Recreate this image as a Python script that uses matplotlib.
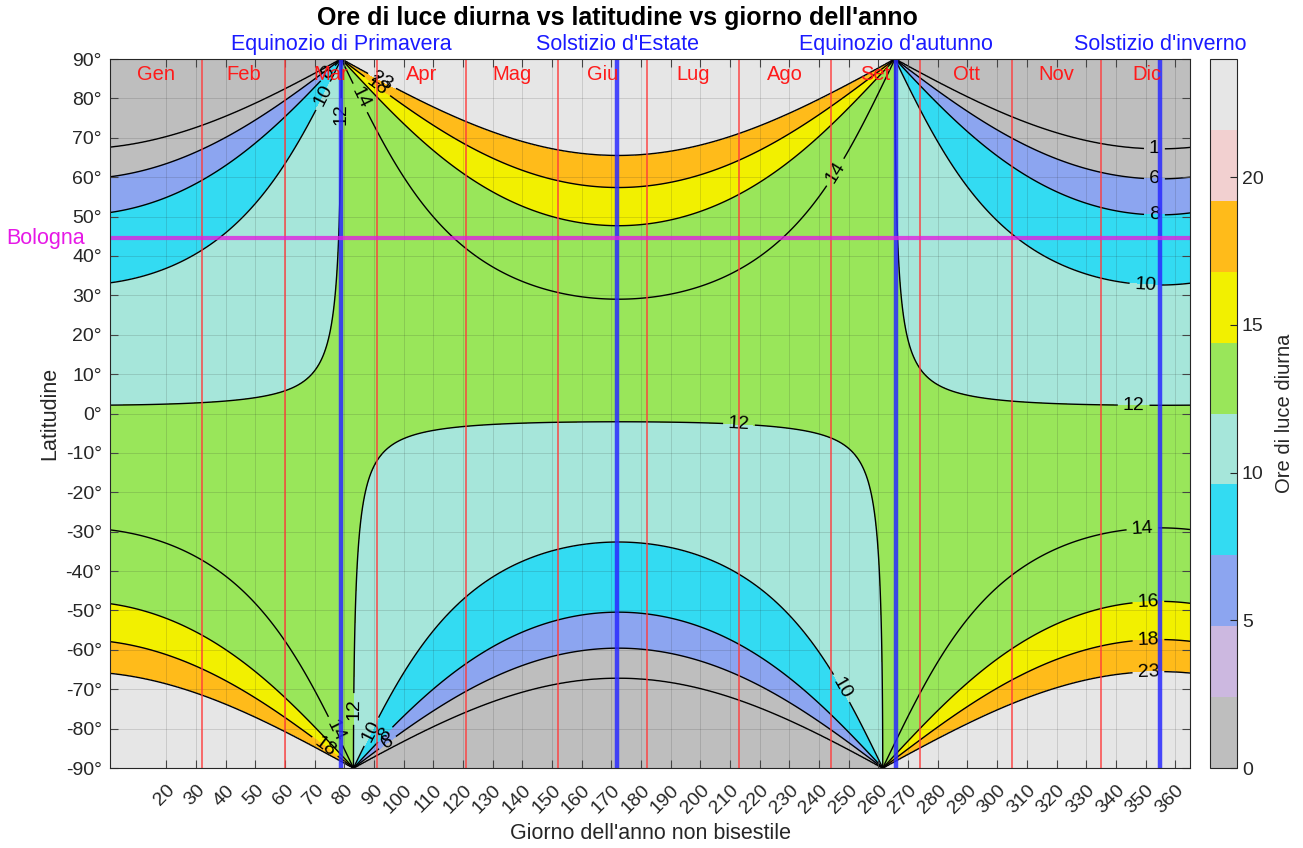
import numpy as np
import matplotlib
matplotlib.use("Agg")
import matplotlib.pyplot as plt
from matplotlib.colors import ListedColormap, Normalize
import matplotlib.cm as cm

plt.rcParams["font.family"] = ["Liberation Sans", "DejaVu Sans"]

# contour levels (hours of daylight) and their fill colours
levels = [1, 6, 8, 10, 12, 14, 16, 18, 23]
cbar_colors = ["#bebebe", "#ccb8e0", "#8ca5f0", "#33dbf2", "#a6e6da",
               "#99e65a", "#f2f000", "#ffbb1a", "#f2d0d0", "#e6e6e6"]

# months (Italian) and first day of each month, non-leap year
months = ["Gen", "Feb", "Mar", "Apr", "Mag", "Giu",
          "Lug", "Ago", "Set", "Ott", "Nov", "Dic"]
month_start = [1, 32, 60, 91, 121, 152, 182, 213, 244, 274, 305, 335]
month_end = month_start[1:] + [366]

# equinoxes / solstices
events = ["Equinozio di Primavera", "Solstizio d'Estate",
          "Equinozio d'autunno", "Solstizio d'inverno"]
event_day = [79, 172, 266, 355]

bologna_lat = 44.5

# day length from the sunrise equation (sun centre at -0.833 deg)
days = np.linspace(1, 365, 1200)
lats = np.linspace(-90, 90, 901)
D, L = np.meshgrid(days, lats)
decl = np.radians(23.45) * np.sin(2 * np.pi * (284 + D) / 365)
phi = np.radians(L)
cosH = (np.sin(np.radians(-0.833)) - np.sin(phi) * np.sin(decl)) / (np.cos(phi) * np.cos(decl))
cosH = np.clip(cosH, -1, 1)
hours = 2 * np.degrees(np.arccos(cosH)) / 15.0

cmap = ListedColormap(cbar_colors)
norm = Normalize(0, 24)
fill_levels = [-0.5] + levels + [24.5]
fill_colors = [cmap(norm(v)) for v in [0] + levels]
fill_colors[0] = cbar_colors[0]

fig = plt.figure(figsize=(13.03, 8.48), dpi=100)
ax = fig.add_axes([0.0844, 0.0943, 0.8289, 0.8361])
cax = fig.add_axes([0.9286, 0.0943, 0.0207, 0.8361])

ax.contourf(D, L, hours, levels=fill_levels, colors=fill_colors, zorder=1)
cs = ax.contour(D, L, hours, levels=levels, colors="k", linewidths=1.0, zorder=2)

label_pos = [(353, 67.5), (353, 59.5), (353, 50), (350, 33), (346, 1.8),
             (213, -2.5), (349, -29.5), (351, -48.5), (351, -57.5), (351, -66),
             (246, 61), (247, -70),
             (79.5, 76), (72, 81), (75, 86), (85, 80), (91, 83), (93, 85),
             (82, -75), (87, -80), (76, -81), (74, -84), (93, -81), (94, -83)]
ax.clabel(cs, levels=levels, manual=label_pos, inline=True, fontsize=14, fmt="%d")

# month boundaries and labels
for s, e, m in zip(month_start, month_end, months):
    ax.axvline(s, color="#ff3b3b", lw=1.2, alpha=0.85, zorder=4)
    ax.text((s + e) / 2, 86, m, color="#ff1a1a", fontsize=14.5,
            ha="center", va="center", zorder=6)

# equinoxes and solstices
for d, name in zip(event_day, events):
    ax.axvline(d, color="#2a2aff", lw=3.2, alpha=0.85, zorder=5)
    ax.text(d, 91.0, name, color="#1a1aff", fontsize=15.5,
            ha="center", va="bottom", clip_on=False)

ax.axhline(bologna_lat, color="#e020e0", lw=3, alpha=0.8, zorder=5)
ax.text(-7.5, bologna_lat, "Bologna", color="#e619e6", fontsize=15.5,
        ha="right", va="center", clip_on=False)

ax.set_xlim(1, 365)
ax.set_ylim(-90, 90)
xt = list(range(20, 361, 10))
ax.set_xticks(xt)
ax.set_xticklabels([str(t) for t in xt], rotation=45, ha="right",
                   rotation_mode="anchor", fontsize=14, color="#262626")
yt = list(range(-90, 91, 10))
ax.set_yticks(yt)
ax.set_yticklabels(["%d°" % t for t in yt], fontsize=14, color="#262626")
ax.tick_params(direction="in", top=True, right=True, length=6, width=0.8,
               color="#444444")
ax.tick_params(axis="x", pad=10)
ax.tick_params(axis="y", pad=6)
ax.set_axisbelow(False)
ax.grid(True, color="#262626", alpha=0.15, lw=0.7)
for sp in ax.spines.values():
    sp.set_color("#262626")
    sp.set_linewidth(0.8)
    sp.set_zorder(7)

ax.set_xlabel("Giorno dell'anno non bisestile", fontsize=15.5, color="#262626", labelpad=4)
ax.set_ylabel("Latitudine", fontsize=15.5, color="#262626", labelpad=4)
fig.text(617 / 1303, 1 - 18 / 848, "Ore di luce diurna vs latitudine vs giorno dell'anno",
         fontsize=18, fontweight="bold", ha="center", va="center")

sm = cm.ScalarMappable(norm=norm, cmap=cmap)
cb = fig.colorbar(sm, cax=cax, ticks=[0, 5, 10, 15, 20])
cb.ax.tick_params(labelsize=14, direction="in", length=5, colors="#262626")
cb.outline.set_edgecolor("#262626")
cb.outline.set_linewidth(0.8)
cb.set_label("Ore di luce diurna", fontsize=14.5, color="#262626", labelpad=8)

fig.savefig("out.png", dpi=100)
